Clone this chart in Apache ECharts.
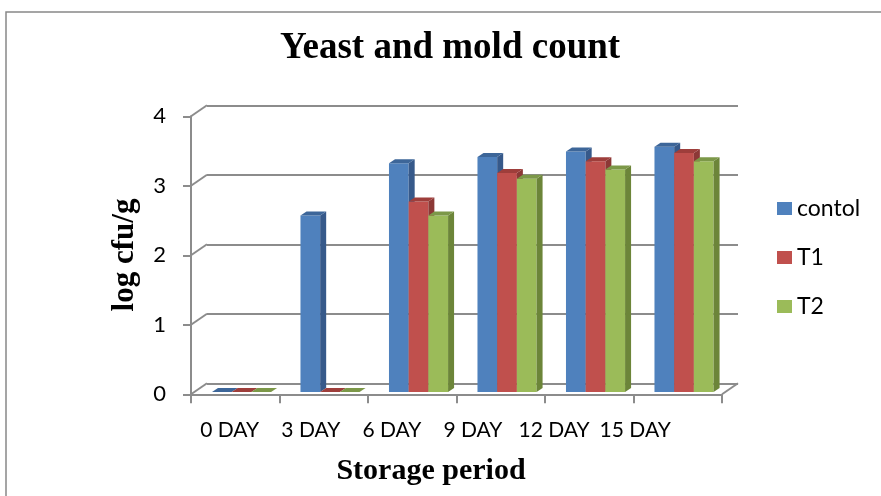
<!DOCTYPE html>
<html>
<head>
<meta charset="utf-8">
<script src="https://cdn.jsdelivr.net/npm/echarts@6/dist/echarts.min.js"></script>
<style>
html,body{margin:0;padding:0;background:#fff;}
#chart{width:881px;height:496px;}
</style>
</head>
<body>
<div id="chart"></div>
<script>
// ---- data ----
const categories = ['0 DAY', '3 DAY', '6 DAY', '9 DAY', '12 DAY', '15 DAY'];
const contol = [0, 2.54, 3.29, 3.38, 3.46, 3.53];
const t1 = [0, 0, 2.74, 3.15, 3.32, 3.44];
const t2 = [0, 0, 2.54, 3.07, 3.20, 3.32];
const yTicks = [0, 1, 2, 3, 4];
const seriesNames = ['contol', 'T1', 'T2'];

// ---- styling ----
const GRAY = '#8c8c8c';
const SANS = 'Lato';
const SERIF = 'Liberation Serif';
const DEPTH = [16, -11];      // front plane -> back wall
const BAR_DEPTH = [6, -4];    // bar 3D thickness
const BAR_W = 0.2226;         // bar width as fraction of band
const BAR_OFF = -0.263;       // group start relative to band center
const BAR_DY = -2.3;
const faces = [
  { front: '#4F81BD', side: '#36598A', top: '#3D6699' },
  { front: '#C0504D', side: '#8C3836', top: '#9E3E3B' },
  { front: '#9BBB59', side: '#6C8539', top: '#7C9848' }
];

function barRenderer(sIdx) {
  const f = faces[sIdx];
  return function (params, api) {
    const cat = api.value(0), v = api.value(1);
    const base = api.coord([cat, 0]);
    const tp = api.coord([cat, v]);
    const band = api.size([1, 0])[0];
    const w = band * BAR_W;
    const x = base[0] + band * BAR_OFF + sIdx * w;
    const yb = base[1] + BAR_DY, yt = tp[1] + BAR_DY;
    const dx = BAR_DEPTH[0], dy = BAR_DEPTH[1];
    return {
      type: 'group',
      children: [
        { type: 'polygon', shape: { points: [[x, yt], [x + w, yt], [x + w, yb], [x, yb]] }, style: { fill: f.front } },
        { type: 'polygon', shape: { points: [[x + w, yt], [x + w + dx, yt + dy], [x + w + dx, yb + dy], [x + w, yb]] }, style: { fill: f.side } },
        { type: 'polygon', shape: { points: [[x, yt], [x + dx, yt + dy], [x + w + dx, yt + dy], [x + w, yt]] }, style: { fill: f.top } }
      ]
    };
  };
}

const seriesData = [contol, t1, t2];
const barSeries = seriesData.map((vals, s) => ({
  name: seriesNames[s],
  type: 'custom',
  xAxisIndex: 0, yAxisIndex: 0,
  itemStyle: { color: faces[s].front },
  renderItem: barRenderer(s),
  encode: { x: 0, y: 1 },
  data: vals.map((v, i) => [i, v]),
  z: 5
}));

// diagonals joining front axis and back wall, plus floor right edge
const diagSeries = {
  type: 'custom',
  xAxisIndex: 0, yAxisIndex: 0,
  silent: true,
  renderItem: function (params, api) {
    const v = api.value(1);
    const p = api.coord([0, v]);
    const cs = params.coordSys;
    const children = [{
      type: 'line',
      shape: { x1: cs.x, y1: p[1], x2: cs.x + DEPTH[0], y2: p[1] + DEPTH[1] },
      style: { stroke: GRAY, lineWidth: 2 }
    }];
    if (v === 0) {
      children.push({
        type: 'line',
        shape: { x1: cs.x + cs.width, y1: p[1], x2: cs.x + cs.width + DEPTH[0], y2: p[1] + DEPTH[1] },
        style: { stroke: GRAY, lineWidth: 2 }
      });
    }
    return { type: 'group', children: children };
  },
  encode: { x: 0, y: 1 },
  data: yTicks.map(v => [0, v]),
  z: 3
};

const chart = echarts.init(document.getElementById('chart'));
chart.setOption({
  animation: false,
  backgroundColor: '#fff',
  title: {
    text: 'Yeast and mold count',
    left: 450, top: 30, textAlign: 'center', padding: 0,
    textStyle: { fontFamily: SERIF, fontWeight: 'bold', fontSize: 37, color: '#000' }
  },
  legend: {
    orient: 'vertical',
    left: 777, top: 197, padding: 0,
    itemWidth: 15, itemHeight: 13, itemGap: 26,
    icon: 'rect',
    data: seriesNames,
    textStyle: { fontFamily: SANS, fontSize: 23, color: '#000', lineHeight: 23 }
  },
  grid: [
    // front plane
    { left: 191, top: 116.3, width: 531, height: 278 },
    // back wall
    { left: 191 + DEPTH[0], top: 116.3 + DEPTH[1], width: 531, height: 278 },
    // label band for category text
    { left: 189.2, top: 116.3, width: 486.5, height: 278 }
  ],
  xAxis: [
    {
      gridIndex: 0, type: 'category', data: categories, boundaryGap: true,
      axisLine: { show: true, lineStyle: { color: GRAY, width: 2 } },
      axisTick: { show: true, length: 9, lineStyle: { color: GRAY, width: 2 } },
      axisLabel: { show: false }
    },
    { gridIndex: 1, type: 'category', data: categories, show: false },
    {
      gridIndex: 2, type: 'category', data: categories,
      axisLine: { show: false }, axisTick: { show: false },
      axisLabel: { interval: 0, fontFamily: SANS, fontSize: 21, color: '#000', margin: 25 }
    }
  ],
  yAxis: [
    {
      gridIndex: 0, type: 'value', min: 0, max: 4, interval: 1,
      axisLine: { show: true, lineStyle: { color: GRAY, width: 2 } },
      axisTick: { show: true, length: 8, lineStyle: { color: GRAY, width: 2 } },
      splitLine: { show: false },
      axisLabel: { fontFamily: SANS, fontSize: 22, color: '#000', margin: 25 }
    },
    {
      gridIndex: 1, type: 'value', min: 0, max: 4, interval: 1,
      axisLine: { show: false }, axisTick: { show: false }, axisLabel: { show: false },
      splitLine: { show: true, lineStyle: { color: GRAY, width: 2 } }
    },
    { gridIndex: 2, type: 'value', min: 0, max: 4, show: false, splitLine: { show: false } }
  ],
  graphic: [
    {
      type: 'polyline', silent: true,
      shape: { points: [[6, 496], [6, 12], [881, 12]] },
      style: { stroke: '#888', lineWidth: 1.5, fill: null }
    },
    {
      type: 'text', x: 125, y: 255, rotation: Math.PI / 2,
      style: { text: 'log cfu/g', fontFamily: SERIF, fontWeight: 'bold', fontSize: 31, fill: '#000', align: 'center', verticalAlign: 'middle' }
    },
    {
      type: 'text', x: 431, y: 471,
      style: { text: 'Storage period', fontFamily: SERIF, fontWeight: 'bold', fontSize: 30, fill: '#000', align: 'center', verticalAlign: 'middle' }
    }
  ],
  series: [diagSeries].concat(barSeries)
});
</script>
</body>
</html>
